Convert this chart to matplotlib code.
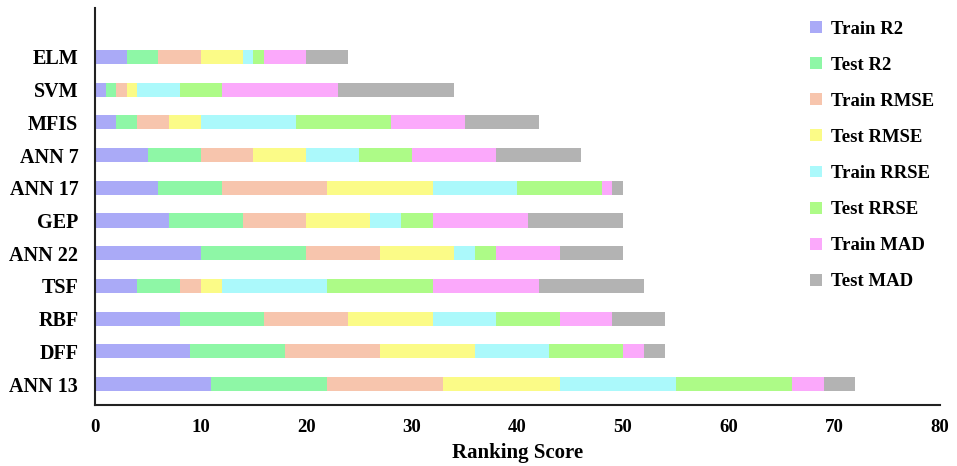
import numpy as np
import matplotlib
matplotlib.use("Agg")
import matplotlib.pyplot as plt

# models, bottom to top
models = ["ANN 13", "DFF", "RBF", "TSF", "ANN 22", "GEP", "ANN 17", "ANN 7", "MFIS", "SVM", "ELM"]

# ranking score per metric (same order as models)
train_r2 = [11, 9, 8, 4, 10, 7, 6, 5, 2, 1, 3]
test_r2 = [11, 9, 8, 4, 10, 7, 6, 5, 2, 1, 3]
train_rmse = [11, 9, 8, 2, 7, 6, 10, 5, 3, 1, 4]
test_rmse = [11, 9, 8, 2, 7, 6, 10, 5, 3, 1, 4]
train_rrse = [11, 7, 6, 10, 2, 3, 8, 5, 9, 4, 1]
test_rrse = [11, 7, 6, 10, 2, 3, 8, 5, 9, 4, 1]
train_mad = [3, 2, 5, 10, 6, 9, 1, 8, 7, 11, 4]
test_mad = [3, 2, 5, 10, 6, 9, 1, 8, 7, 11, 4]

series = [
    ("Train R2", train_r2, "#aaaaf7"),
    ("Test R2", test_r2, "#8ef7a6"),
    ("Train RMSE", train_rmse, "#f7c5ad"),
    ("Test RMSE", test_rmse, "#fbfb87"),
    ("Train RRSE", train_rrse, "#abf9fb"),
    ("Test RRSE", test_rrse, "#adfb87"),
    ("Train MAD", train_mad, "#fba9fb"),
    ("Test MAD", test_mad, "#b3b3b3"),
]

plt.rcParams['font.family'] = ['Liberation Serif', 'DejaVu Serif']
plt.rcParams['font.weight'] = 'bold'

fig = plt.figure(figsize=(9.57, 4.66), dpi=100)
ax = fig.add_axes([0.0993, 0.131, 0.8827, 0.852])

y = np.arange(len(models))
left = np.zeros(len(models))
for name, vals, col in series:
    ax.barh(y, vals, left=left, height=0.43, color=col, label=name, edgecolor='none')
    left += np.array(vals)

ax.set_xlim(0, 80)
ax.set_ylim(-0.64, 11.5)
ax.set_xticks(range(0, 81, 10))
ax.set_yticks(y)
ax.set_yticklabels(models)
ax.tick_params(axis='y', length=0, labelsize=14.5, pad=12)
ax.tick_params(axis='x', length=0, labelsize=13.5, pad=10)
for lab in ax.get_xticklabels() + ax.get_yticklabels():
    lab.set_fontweight('bold')
ax.set_xlabel("Ranking Score", fontsize=15, fontweight='bold', labelpad=5)

ax.spines['top'].set_visible(False)
ax.spines['right'].set_visible(False)
for s in ['left', 'bottom']:
    ax.spines[s].set_linewidth(1.5)
    ax.spines[s].set_color('#222222')

leg = ax.legend(loc='upper left', bbox_to_anchor=(0.835, 0.98), bbox_transform=fig.transFigure,
                frameon=False, fontsize=13.5, handlelength=0.6, handleheight=0.6,
                handletextpad=0.5, labelspacing=1.02, borderaxespad=0.2)
for t in leg.get_texts():
    t.set_fontweight('bold')

fig.savefig("out.png", dpi=100)
